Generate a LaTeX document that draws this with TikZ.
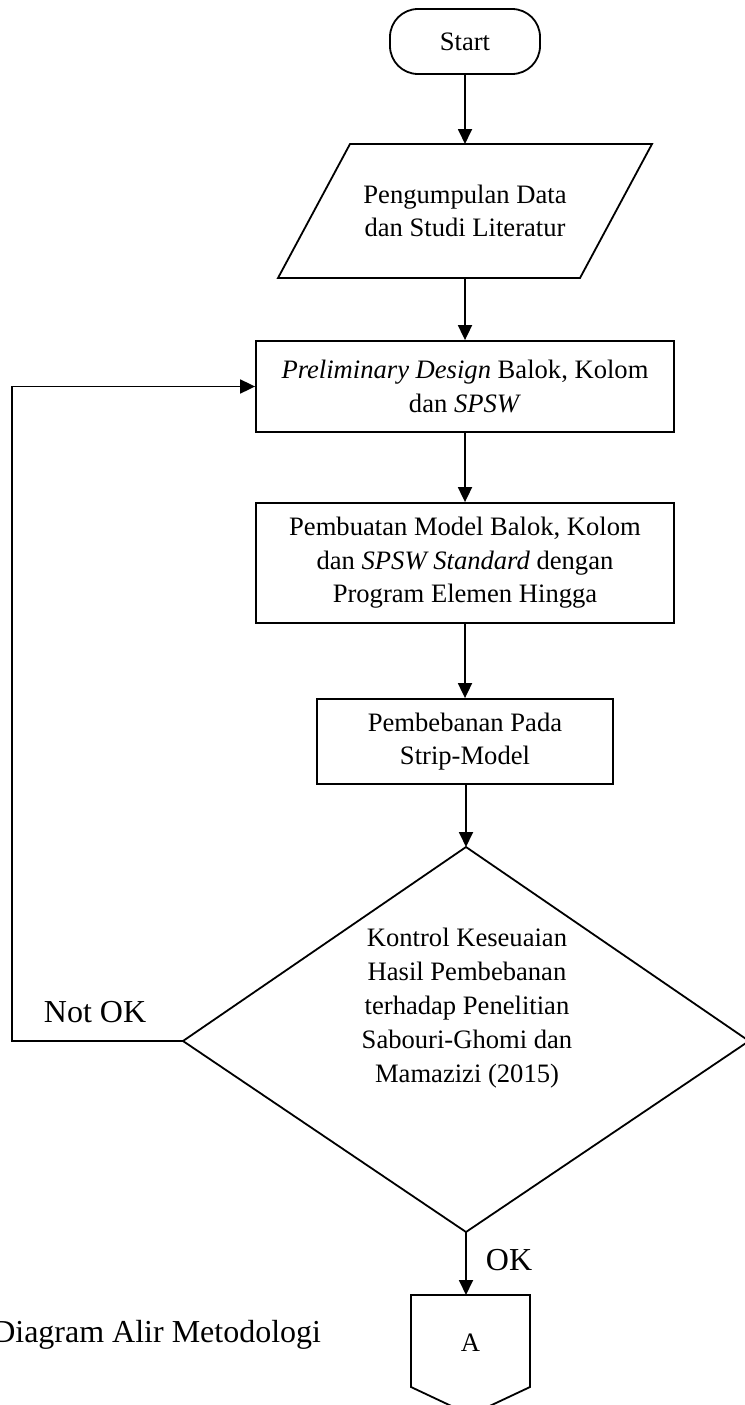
\documentclass[tikz,border=0pt]{standalone}
\usepackage{fontspec}
\setmainfont{Liberation Serif}
\usetikzlibrary{arrows.meta,shapes.geometric}
\begin{document}
\begin{tikzpicture}[x=1pt,y=-1pt, line width=1.8pt,
  txt/.style={font=\fontsize{26.6}{33.5}\selectfont, align=center, inner sep=0pt},
  boxnode/.style={draw, txt},
  arr/.style={-{Triangle[length=15pt,width=14pt]}, line width=1.8pt},
  lbl/.style={font=\fontsize{32}{38}\selectfont, inner sep=0pt}]
\useasboundingbox (0,0) rectangle (744,1405);

% Start
\node[boxnode, rounded corners=28pt, minimum width=150pt, minimum height=65pt] (start) at (465,41.5) {Start};

% Parallelogram
\node[txt, minimum width=300pt, minimum height=134pt] (para) at (465,211) {Pengumpulan Data\\dan Studi Literatur};
\draw (350,144) -- (652,144) -- (580,278) -- (278,278) -- cycle;

% Preliminary design
\node[boxnode, minimum width=418pt, minimum height=91pt] (pre) at (465,386.5)
  {\textit{Preliminary Design} Balok, Kolom\\dan \textit{SPSW}};

% Model
\node[boxnode, minimum width=418pt, minimum height=120pt] (model) at (465,563)
  {Pembuatan Model Balok, Kolom\\dan \textit{SPSW Standard} dengan\\Program Elemen Hingga};

% Loading
\node[boxnode, minimum width=296pt, minimum height=85pt] (load) at (465,741.5)
  {Pembebanan Pada\\Strip-Model};

% Decision diamond
\coordinate (dtop) at (466,847);
\coordinate (dleft) at (183,1041);
\coordinate (dbot) at (466,1232);
\coordinate (dright) at (749,1041);
\draw (dtop) -- (dright) -- (dbot) -- (dleft) -- cycle;
\node[txt, font=\fontsize{26.6}{34}\selectfont] (dec) at (467,1008)
  {Kontrol Keseuaian\\Hasil Pembebanan\\terhadap Penelitian\\Sabouri-Ghomi dan\\Mamazizi (2015)};

% Off-page connector A
\coordinate (atop) at (468,1295);
\draw (411,1295) -- (530,1295) -- (530,1387) -- (470.5,1415) -- (411,1387) -- cycle;
\node[txt] (a) at (470.5,1343) {A};

% Connectors
\draw[arr] (start.south) -- (start.south |- 0,144);
\draw[arr] (para.south) -- (pre.north);
\draw[arr] (pre.south) -- (model.north);
\draw[arr] (model.south) -- (load.north);
\draw[arr] (load.south -| dtop) -- (dtop);
\draw[arr] (dbot) -- (dbot |- atop);
\draw[arr] (dleft) -- (12,1041) |- (pre.west);

% Labels
\node[lbl, anchor=base west] (notok) at (43,1022) {Not OK};
\node[lbl, anchor=west] (ok) at (485,1260) {OK};
\node[lbl, anchor=base east] (cap) at (322,1342) {Diagram Alir Metodologi};
\end{tikzpicture}
\end{document}
